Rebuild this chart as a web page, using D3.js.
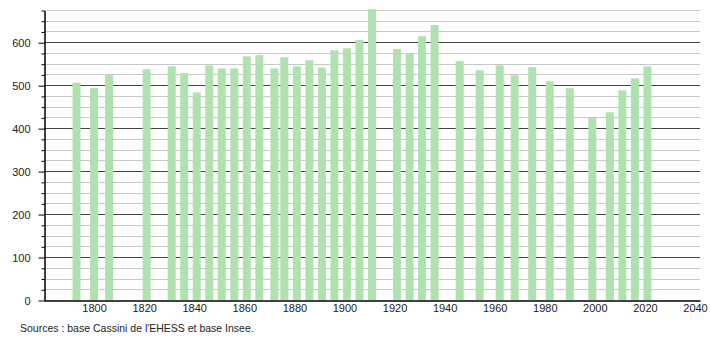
<!DOCTYPE html>
<html><head><meta charset="utf-8">
<script src="https://cdn.jsdelivr.net/npm/d3@7"></script>
<style>body{margin:0;background:#fff;} text{font-family:"Liberation Sans",Arial,sans-serif;}</style>
</head><body>
<svg id="c" width="710" height="340"></svg>
<script>
const years = [1793,1800,1806,1821,1831,1836,1841,1846,1851,1856,1861,1866,1872,1876,1881,1886,1891,1896,1901,1906,1911,1921,1926,1931,1936,1946,1954,1962,1968,1975,1982,1990,1999,2006,2011,2016,2021];
const population = [506,493,525,537,544,528,483,546,539,539,567,570,539,565,544,558,541,581,586,605,677,584,574,614,640,556,535,546,523,542,509,493,424,437,488,516,544];
const xTicks = [1800,1820,1840,1860,1880,1900,1920,1940,1960,1980,2000,2020,2040];
const yTicks = [0,100,200,300,400,500,600];
const sourceText = "Sources : base Cassini de l'EHESS et base Insee.";

const svg = d3.select("#c");
const mLeft = 44, mRight = 700, mTop = 10, mBottom = 300;
const x = d3.scaleLinear().domain([1780, 2042]).range([mLeft, mRight]);
const y = d3.scaleLinear().domain([0, 675]).range([mBottom, mTop]);
const minor = d3.range(25, 676, 25).filter(v => v % 100 !== 0);

svg.append("g").selectAll("line").data(minor).join("line")
  .attr("x1", mLeft).attr("x2", mRight)
  .attr("y1", d => Math.round(y(d)) + 0.5).attr("y2", d => Math.round(y(d)) + 0.5)
  .attr("stroke", "#c8c8c8").attr("stroke-width", 1);
svg.append("g").selectAll("line").data(yTicks.filter(d => d > 0)).join("line")
  .attr("x1", mLeft).attr("x2", mRight)
  .attr("y1", d => Math.round(y(d)) + 0.5).attr("y2", d => Math.round(y(d)) + 0.5)
  .attr("stroke", "#444").attr("stroke-width", 1);

const bw = 8;
svg.append("g").selectAll("rect").data(years).join("rect")
  .attr("x", (d) => x(d) - bw / 2)
  .attr("width", bw)
  .attr("y", (d, i) => y(population[i]))
  .attr("height", (d, i) => mBottom - y(population[i]))
  .attr("fill", "#afe2af");

const yAxis = d3.axisLeft(y).tickValues(yTicks).tickSize(6).tickPadding(8).tickSizeOuter(0);
const ga = svg.append("g").attr("transform", `translate(${mLeft + 0.5},0.5)`).call(yAxis);
ga.select(".domain").attr("stroke", "#000").attr("stroke-width", 1.5);
ga.selectAll(".tick line").attr("stroke", "#000");
ga.selectAll("text").attr("font-size", 11).attr("fill", "#222").style("font-family", "Liberation Sans, Arial, sans-serif");
const yMinor = d3.axisLeft(y).tickValues(minor).tickSize(3).tickFormat("").tickSizeOuter(0);
const gm = svg.append("g").attr("transform", `translate(${mLeft + 0.5},0.5)`).call(yMinor);
gm.select(".domain").remove();
gm.selectAll(".tick line").attr("stroke", "#000");

const xAxis = d3.axisBottom(x).tickValues(xTicks).tickSize(0).tickPadding(2).tickFormat(d3.format("d")).tickSizeOuter(0);
const gx = svg.append("g").attr("transform", `translate(0,${mBottom + 0.5})`).call(xAxis);
gx.select(".domain").attr("stroke", "#000").attr("stroke-width", 1.5);
gx.selectAll("text").attr("font-size", 11).attr("fill", "#222").attr("dy", "0.85em").style("font-family", "Liberation Sans, Arial, sans-serif");

svg.append("text").attr("x", 20).attr("y", 332).attr("font-size", 10.5).attr("fill", "#222").text(sourceText);
</script>
</body></html>
